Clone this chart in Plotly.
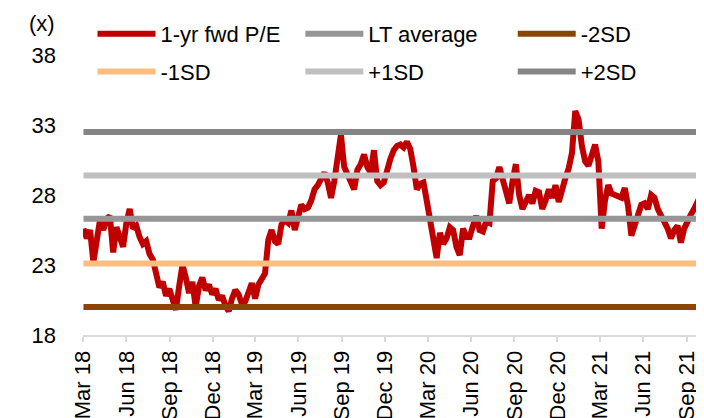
import pandas as pd
import plotly.graph_objects as go

# ---- data ----
START_DATE = "2018-03-02"   # weekly observations
PE_VALUES = [
    25.6, 24.9, 25.5, 23.2, 24.7, 26.2, 25.5, 26.3, 26.5, 23.9,
    25.7, 25.0, 24.3, 26.0, 27.0, 25.6, 25.8, 25.0, 24.5, 24.7,
    23.8, 23.4, 22.5, 21.4, 21.8, 20.8, 21.3, 20.4, 19.8, 21.5,
    23.0, 22.1, 21.0, 21.8, 20.0, 21.5, 22.1, 21.2, 21.6, 20.9,
    21.3, 20.5, 20.8, 20.1, 19.7, 20.6, 21.2, 20.9, 20.2, 20.4,
    21.0, 21.7, 20.6, 21.6, 22.0, 22.4, 24.8, 25.5, 24.7, 24.5,
    25.9, 26.2, 26.0, 26.9, 25.5, 26.5, 27.3, 27.0, 27.1, 27.6,
    28.4, 28.7, 29.2, 29.6, 28.9, 27.8, 29.0, 30.5, 32.3, 30.0,
    29.4, 28.8, 28.4, 29.8, 30.2, 30.9, 30.0, 29.6, 31.2, 29.0,
    28.7, 28.9, 30.0, 30.6, 31.2, 31.5, 31.6, 31.4, 31.8, 31.3,
    30.0, 28.4, 28.8, 28.9, 27.6, 26.3, 24.7, 23.5, 25.3, 24.5,
    24.9, 25.7, 25.5, 24.3, 23.7, 25.6, 25.0, 25.0, 25.8, 26.5,
    25.5, 25.4, 26.1, 26.0, 29.0, 29.2, 30.0, 29.2, 28.2, 27.4,
    29.0, 30.2, 28.0, 27.0, 27.5, 28.0, 27.4, 28.3, 28.2, 27.0,
    27.6, 28.4, 27.8, 28.7, 27.5, 28.5, 29.2, 29.9, 31.0, 34.0,
    33.4, 31.5, 30.4, 30.1, 31.0, 31.6, 30.4, 25.6, 27.6, 28.7,
    28.1, 28.0, 27.8, 27.8, 28.5, 27.2, 25.1, 25.8, 26.7, 27.3,
    27.4, 27.0, 28.0, 27.8, 27.0, 26.6, 26.1, 25.6, 24.9, 25.5,
    25.8, 24.6, 25.6, 26.2, 26.6, 27.0, 27.4, 28.0, 27.0,
]
LT_AVERAGE = 26.3
MINUS_2SD = 20.0
MINUS_1SD = 23.1
PLUS_1SD = 29.4
PLUS_2SD = 32.5

TICK_DATES = ["2018-03-01", "2018-06-01", "2018-09-01", "2018-12-01",
              "2019-03-01", "2019-06-01", "2019-09-01", "2019-12-01",
              "2020-03-01", "2020-06-01", "2020-09-01", "2020-12-01",
              "2021-03-01", "2021-06-01", "2021-09-01"]
TICK_LABELS = ["Mar 18", "Jun 18", "Sep 18", "Dec 18", "Mar 19", "Jun 19",
               "Sep 19", "Dec 19", "Mar 20", "Jun 20", "Sep 20", "Dec 20",
               "Mar 21", "Jun 21", "Sep 21"]
Y_TICKS = [18, 23, 28, 33, 38]
X_RANGE = ["2018-03-01", "2021-10-08"]

dates = pd.date_range(START_DATE, periods=len(PE_VALUES), freq="7D")
span = [dates[0], dates[-1]]

FONT = "Liberation Sans, Arial, sans-serif"
LW = 6

fig = go.Figure()
fig.add_trace(go.Scatter(x=dates, y=PE_VALUES, mode="lines", name="1-yr fwd P/E",
                         line=dict(color="#C00000", width=LW),
                         legend="legend", legendgroup="g0"))
bands = [
    ("LT average", LT_AVERAGE, "#969696", "legend2"),
    ("-2SD", MINUS_2SD, "#8B4500", "legend3"),
    ("-1SD", MINUS_1SD, "#FBBE80", "legend"),
    ("+1SD", PLUS_1SD, "#C0C0C0", "legend2"),
    ("+2SD", PLUS_2SD, "#858585", "legend3"),
]
for k, (name, val, col, lg) in enumerate(bands):
    fig.add_trace(go.Scatter(x=span, y=[val, val], mode="lines", name=name,
                             line=dict(color=col, width=LW),
                             legend=lg, legendgroup="g%d" % (k + 1)))

legend_common = dict(orientation="v", xanchor="left", yanchor="middle", y=1.007,
                     bgcolor="rgba(0,0,0,0)", font=dict(family=FONT, size=22, color="#000"),
                     itemwidth=58, tracegroupgap=6, traceorder="grouped",
                     itemclick=False, itemdoubleclick=False)

# The page body adds an 8px offset; margins are set so the plot area lands
# at the reference position (x 83-704, y 55-335 in the screenshot).
fig.update_layout(
    width=704, height=418,
    margin=dict(l=75, r=8, t=47, b=91, autoexpand=False),
    paper_bgcolor="white", plot_bgcolor="white",
    font=dict(family=FONT, size=22, color="#000"),
    showlegend=True,
    legend=dict(x=0.0153, **legend_common),
    legend2=dict(x=0.350, **legend_common),
    legend3=dict(x=0.692, **legend_common),
    xaxis=dict(
        type="date", range=X_RANGE, automargin=False,
        tickvals=TICK_DATES, ticktext=TICK_LABELS, tickangle=-90,
        showgrid=False, zeroline=False,
        showline=True, linecolor="#D9D9D9", linewidth=2,
        ticks="outside", ticklen=5, tickcolor="#D9D9D9", tickwidth=1.5,
        tickfont=dict(family=FONT, size=22, color="#000"),
    ),
    yaxis=dict(
        range=[18, 38], tickvals=Y_TICKS, showgrid=False, zeroline=False,
        showline=False, ticks="", ticklabelstandoff=26, automargin=False,
        tickfont=dict(family=FONT, size=22, color="#000"),
    ),
    annotations=[dict(text="(x)", xref="paper", yref="paper",
                      x=-0.042, y=1.114, xanchor="right", yanchor="middle",
                      showarrow=False, font=dict(family=FONT, size=22, color="#000"))],
)

fig.write_html("out.html")
